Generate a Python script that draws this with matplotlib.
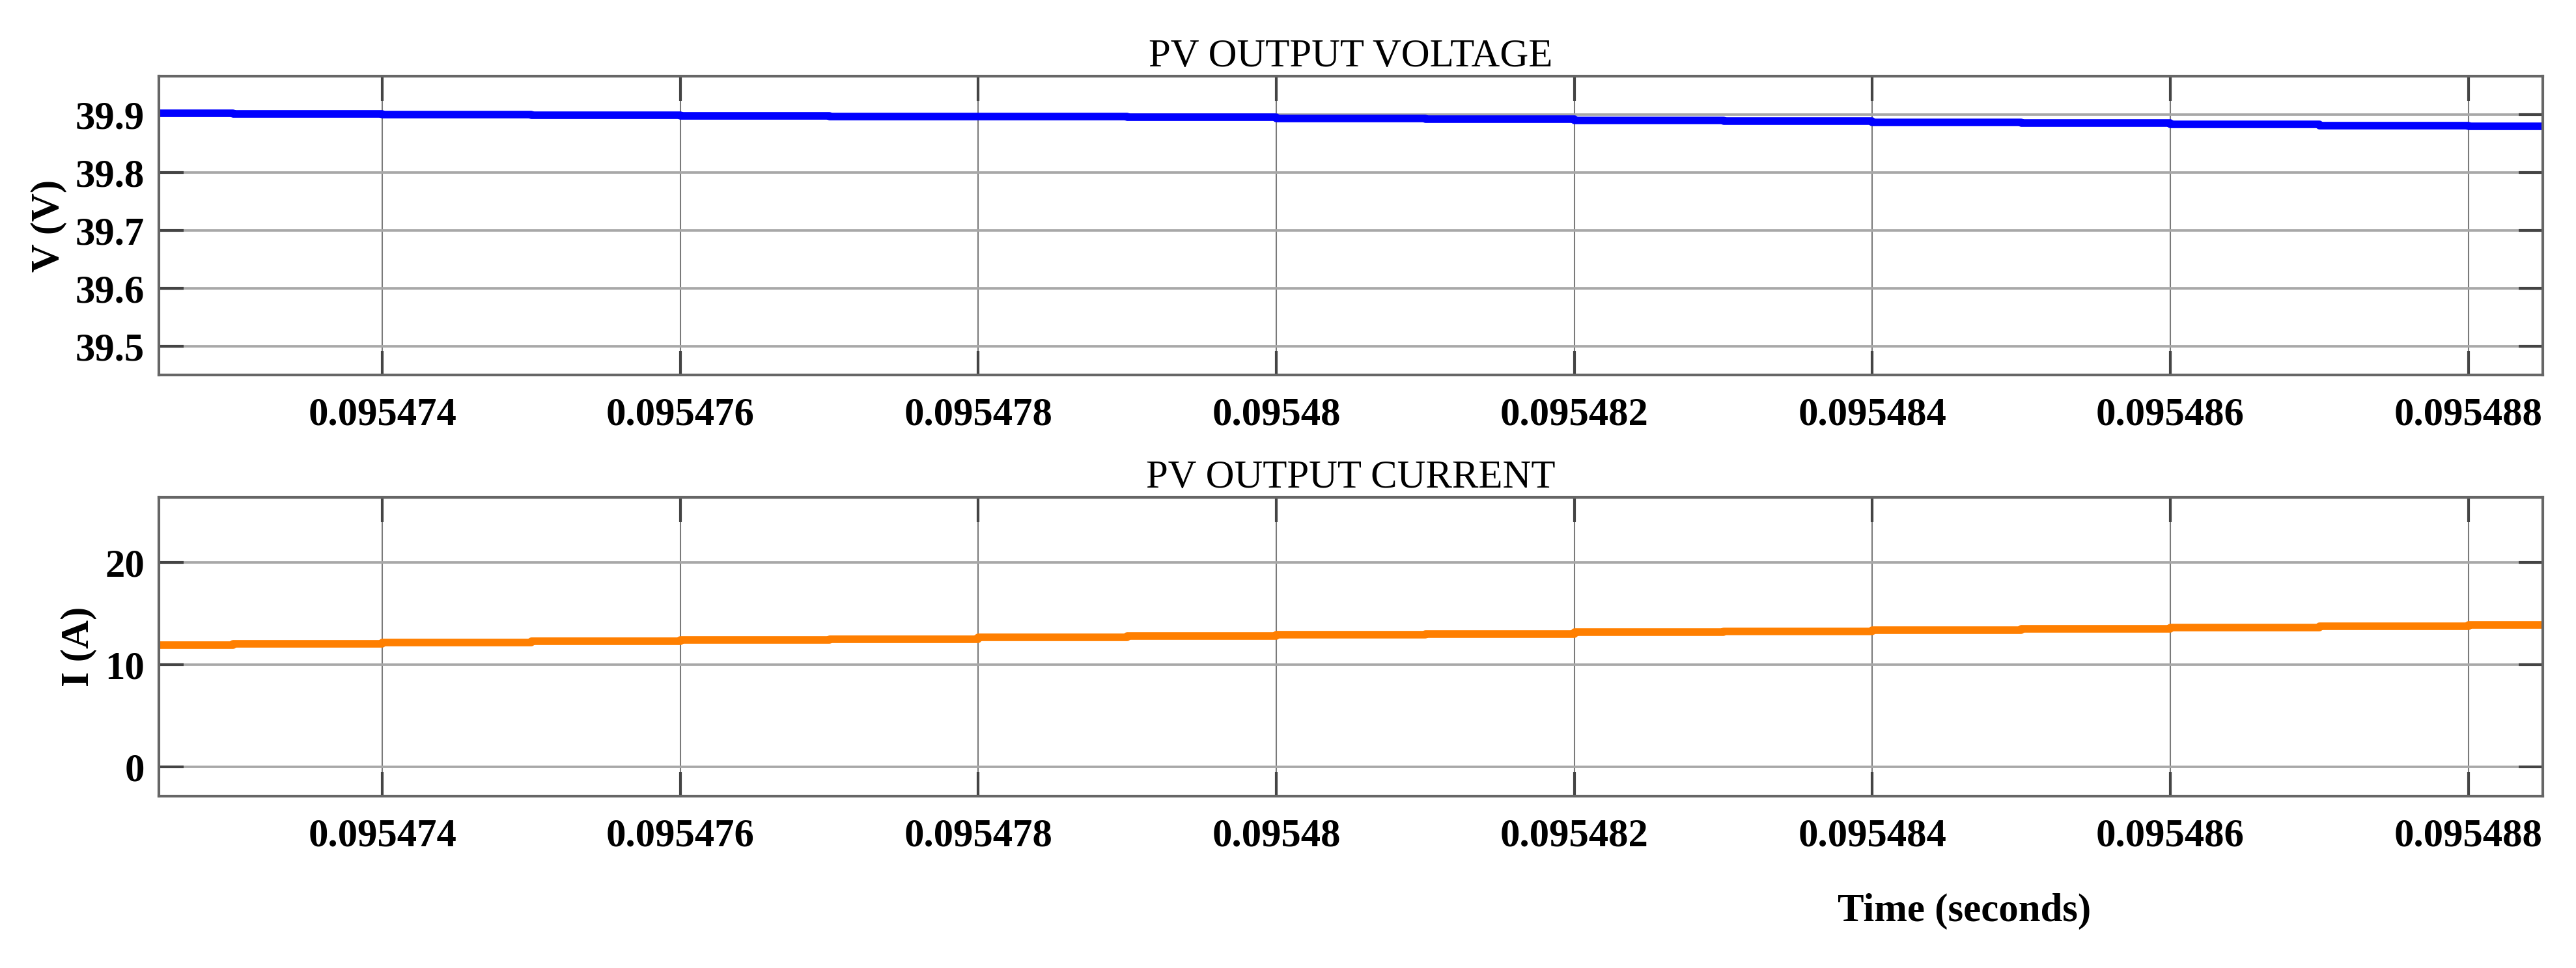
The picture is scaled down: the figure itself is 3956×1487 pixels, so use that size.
import matplotlib
matplotlib.use("Agg")
import matplotlib.pyplot as plt
from matplotlib.ticker import FixedLocator, FixedFormatter

# ---- data ----
time_s = [0.095472, 0.095473, 0.095474, 0.095475, 0.095476, 0.095477,
          0.095478, 0.095479, 0.095480, 0.095481, 0.095482, 0.095483,
          0.095484, 0.095485, 0.095486, 0.095487, 0.095488, 0.095489]
voltage_v = [39.9021, 39.9014, 39.8999, 39.8988, 39.8976, 39.8963,
             39.8959, 39.8952, 39.8931, 39.8918, 39.8893, 39.8882,
             39.8865, 39.8848, 39.8830, 39.8808, 39.8796, 39.8796]
current_a = [11.95, 12.06, 12.18, 12.32, 12.44, 12.52,
             12.69, 12.82, 12.94, 13.04, 13.20, 13.29,
             13.36, 13.55, 13.65, 13.78, 13.90, 13.90]

x_ticks = [0.095474, 0.095476, 0.095478, 0.095480, 0.095482,
           0.095484, 0.095486, 0.095488]
x_tick_labels = ["0.095474", "0.095476", "0.095478", "0.09548",
                 "0.095482", "0.095484", "0.095486", "0.095488"]
v_ticks = [39.5, 39.6, 39.7, 39.8, 39.9]
v_tick_labels = ["39.5", "39.6", "39.7", "39.8", "39.9"]
i_ticks = [0, 10, 20]
i_tick_labels = ["0", "10", "20"]

titles = ["PV OUTPUT VOLTAGE", "PV OUTPUT CURRENT"]
ylabels = ["V (V)", "I (A)"]
xlabel = "Time (seconds)"

# ---- figure ----
W, H, DPI = 3956, 1487, 300
plt.rcParams['font.family'] = ['Liberation Serif', 'DejaVu Serif']
fig = plt.figure(figsize=(W / DPI, H / DPI), dpi=DPI)
fig.patch.set_facecolor("white")

L, R = 244 / W, 3905 / W
ax1 = fig.add_axes([L, 1 - 576 / H, R - L, (576 - 117) / H])
ax2 = fig.add_axes([L, 1 - 1223 / H, R - L, (1223 - 764) / H])

FS = 14.6
specs = [
    (ax1, voltage_v, "#0000FF", (39.451, 39.966), v_ticks, v_tick_labels),
    (ax2, current_a, "#FF7F00", (-2.87, 26.4), i_ticks, i_tick_labels),
]
for k, (ax, ys, col, ylim, yt, ytl) in enumerate(specs):
    ax.plot(time_s, ys, drawstyle="steps-post", color=col, lw=2.8,
            solid_capstyle="butt", zorder=3)
    ax.set_xlim(0.0954725, 0.0954885)
    ax.set_ylim(*ylim)
    ax.xaxis.set_major_locator(FixedLocator(x_ticks))
    ax.xaxis.set_major_formatter(FixedFormatter(x_tick_labels))
    ax.yaxis.set_major_locator(FixedLocator(yt))
    ax.yaxis.set_major_formatter(FixedFormatter(ytl))
    ax.grid(True, axis="y", color="#a8a8a8", lw=0.9, zorder=1)
    ax.grid(True, axis="x", color="#7a7a7a", lw=0.5, zorder=1)
    ax.tick_params(axis="both", direction="in", length=9, width=1.0,
                   color="#444444", top=True, right=True,
                   labelsize=FS)
    ax.tick_params(axis="x", pad=8)
    ax.tick_params(axis="y", pad=5.3)
    for lab in ax.get_xticklabels() + ax.get_yticklabels():
        lab.set_fontweight("bold")
    for sp in ax.spines.values():
        sp.set_color("#666666")
        sp.set_linewidth(1.0)
        sp.set_zorder(4)
    ax.set_title(titles[k], fontsize=FS, fontweight="normal", pad=3.6)
    ax.set_ylabel(ylabels[k], fontsize=FS, fontweight="bold", labelpad=3)

fig.text(3017 / W, 1 - 1400 / H, xlabel, fontsize=FS, fontweight="bold",
         ha="center", va="center")

fig.savefig("out.png", dpi=DPI, facecolor="white")
